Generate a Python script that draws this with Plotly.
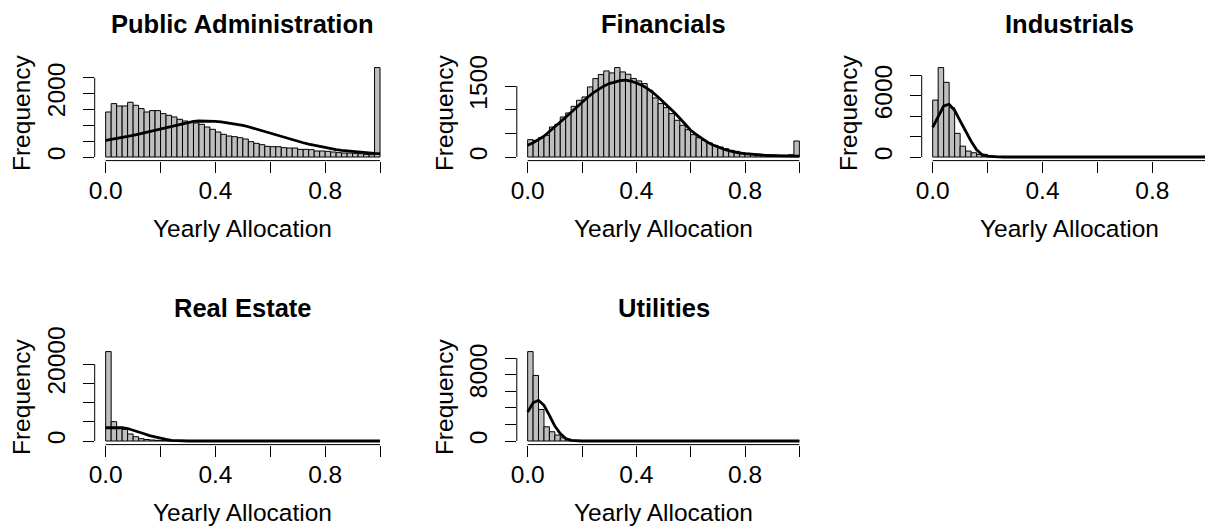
import plotly.graph_objects as go

# ---------------- data ----------------
BIN_WIDTH = 0.02
breaks = [round(i * BIN_WIDTH, 2) for i in range(51)]
mids = [round(b + BIN_WIDTH / 2, 3) for b in breaks[:-1]]

titles = ["Public Administration", "Financials", "Industrials", "Real Estate", "Utilities"]

pa_counts = [1421, 1685, 1611, 1611, 1727, 1632, 1527, 1421, 1464, 1464,
             1369, 1316, 1264, 1190, 1137, 1106, 1074, 1032, 948, 874,
             790, 716, 663, 642, 611, 569, 484, 432, 390, 337,
             326, 326, 295, 284, 284, 242, 242, 232, 190, 190,
             179, 158, 137, 126, 126, 116, 105, 84, 74, 2822]
pa_curve = [526, 555, 585, 615, 650, 684, 725, 765, 810, 850,
            895, 935, 969, 1020, 1065, 1106, 1125, 1137, 1140, 1135,
            1127, 1110, 1085, 1060, 1030, 1000, 955, 905, 850, 795,
            737, 685, 635, 585, 540, 495, 450, 410, 370, 330,
            295, 265, 235, 210, 190, 179, 160, 145, 130, 115, 105]

fin_counts = [367, 353, 409, 459, 635, 692, 847, 932, 1073, 1200,
              1271, 1483, 1659, 1744, 1821, 1779, 1892, 1800, 1751, 1659,
              1610, 1553, 1412, 1250, 1130, 1045, 918, 777, 671, 579,
              473, 409, 353, 297, 247, 212, 177, 141, 120, 92,
              78, 71, 56, 49, 49, 42, 35, 35, 49, 339]
fin_curve = [250, 300, 370, 440, 540, 650, 740, 840, 950, 1060,
             1165, 1260, 1350, 1430, 1500, 1553, 1590, 1618, 1625, 1605,
             1567, 1520, 1450, 1370, 1270, 1165, 1050, 940, 820, 690,
             565, 480, 395, 320, 260, 212, 170, 135, 105, 85,
             71, 58, 46, 38, 32, 28, 25, 22, 20, 20, 20]

ind_counts = [5571, 8750, 7309, 4830, 2318, 1063, 580, 419, 258, 258,
              60, 30, 15, 0, 0, 0, 0, 0, 0, 0,
              0, 0, 0, 0, 0, 0, 0, 0, 0, 0,
              0, 0, 0, 0, 0, 0, 0, 0, 0, 0,
              0, 0, 0, 0, 0, 0, 0, 0, 0, 0]
ind_curve = [2900, 4025, 4990, 5150, 4570, 3540, 2510, 1550, 710, 225,
             97, 30, 10, 0, 0, 0, 0, 0, 0, 0,
             0, 0, 0, 0, 0, 0, 0, 0, 0, 0,
             0, 0, 0, 0, 0, 0, 0, 0, 0, 0,
             0, 0, 0, 0, 0, 0, 0, 0, 0, 0, 0]

re_counts = [23262, 5034, 3559, 3038, 1823, 1128, 608, 400, 260, 174,
             100, 60, 30, 15, 0, 0, 0, 0, 0, 0,
             0, 0, 0, 0, 0, 0, 0, 0, 0, 0,
             0, 0, 0, 0, 0, 0, 0, 0, 0, 0,
             0, 0, 0, 0, 0, 0, 0, 0, 0, 0]
re_curve = [3450, 3500, 3500, 3450, 3250, 2850, 2400, 1900, 1400, 1000,
            700, 400, 180, 60, 20, 0, 0, 0, 0, 0,
            0, 0, 0, 0, 0, 0, 0, 0, 0, 0,
            0, 0, 0, 0, 0, 0, 0, 0, 0, 0,
            0, 0, 0, 0, 0, 0, 0, 0, 0, 0, 0]

ut_counts = [10773, 7900, 3800, 1716, 1117, 718, 399, 200, 80, 30,
             10, 0, 0, 0, 0, 0, 0, 0, 0, 0,
             0, 0, 0, 0, 0, 0, 0, 0, 0, 0,
             0, 0, 0, 0, 0, 0, 0, 0, 0, 0,
             0, 0, 0, 0, 0, 0, 0, 0, 0, 0]
ut_curve = [3500, 4600, 4900, 4300, 3100, 1800, 900, 300, 80, 20,
            0, 0, 0, 0, 0, 0, 0, 0, 0, 0,
            0, 0, 0, 0, 0, 0, 0, 0, 0, 0,
            0, 0, 0, 0, 0, 0, 0, 0, 0, 0,
            0, 0, 0, 0, 0, 0, 0, 0, 0, 0, 0]

counts = [pa_counts, fin_counts, ind_counts, re_counts, ut_counts]
curves = [pa_curve, fin_curve, ind_curve, re_curve, ut_curve]

x_tickvals = [0.0, 0.2, 0.4, 0.6, 0.8, 1.0]
x_ticktext = ["0.0", "", "0.4", "", "0.8", ""]

y_tickvals = [
    [0, 500, 1000, 1500, 2000, 2500],
    [0, 500, 1000, 1500],
    [0, 2000, 4000, 6000, 8000],
    [0, 5000, 10000, 15000, 20000],
    [0, 2000, 4000, 6000, 8000, 10000],
]
y_ticktext = [
    ["0", "", "", "", "2000", ""],
    ["0", "", "", "1500"],
    ["0", "", "", "6000", ""],
    ["0", "", "", "", "20000"],
    ["0", "", "", "", "8000", ""],
]

# ---------------- layout geometry (pixels) ----------------
W, H = 1205, 526
# plot regions: (left, right, top, bottom) in px
regions = [
    (94.7, 391.0, 64.0, 160.6),
    (516.8, 810.2, 64.0, 160.6),
    (921.7, 1218.2, 64.0, 160.6),
    (94.7, 391.0, 348.0, 444.6),
    (516.8, 810.2, 348.0, 444.6),
]

FONT = "Liberation Sans, Arial, sans-serif"
GRAY = "#BEBEBE"
TICK_SIZE = 24.5
TITLE_SIZE = 25.5

fig = go.Figure()
layout = dict(
    width=W, height=H, margin=dict(l=0, r=0, t=0, b=0, pad=0, autoexpand=False),
    paper_bgcolor="white", plot_bgcolor="white", showlegend=False,
    font=dict(family=FONT, color="black"),
    bargap=0,
)
shapes = []
annotations = []

for i in range(5):
    left, right, top, bottom = regions[i]
    n = "" if i == 0 else str(i + 1)
    xa, ya = "x" + n, "y" + n
    ymax = max(counts[i])
    unit = (right - left) / 1.08
    x_lo = -0.04
    x_hi = 1.04
    dom_right = right
    if right > W:
        dom_right = W
        x_hi = -0.04 + (W - left) / unit
    fig.add_trace(go.Bar(
        x=mids, y=counts[i], width=BIN_WIDTH,
        marker=dict(color=GRAY, line=dict(color="black", width=1)),
        xaxis=xa, yaxis=ya, hoverinfo="skip",
    ))
    fig.add_trace(go.Scatter(
        x=breaks, y=curves[i], mode="lines",
        line=dict(color="black", width=2.8),
        xaxis=xa, yaxis=ya, hoverinfo="skip",
    ))
    layout["xaxis" + n] = dict(
        domain=[left / W, dom_right / W], range=[x_lo, x_hi], anchor=ya,
        tickvals=x_tickvals, ticktext=x_ticktext,
        ticks="outside", ticklen=11, tickwidth=1, tickcolor="black",
        showgrid=False, zeroline=False, showline=False,
        tickfont=dict(size=TICK_SIZE, color="black", family=FONT),
        ticklabelstandoff=-3, automargin=False, fixedrange=True,
    )
    layout["yaxis" + n] = dict(
        domain=[1 - bottom / H, 1 - top / H], range=[-0.04 * ymax, 1.04 * ymax], anchor=xa,
        tickvals=y_tickvals[i], ticktext=y_ticktext[i], tickangle=-90,
        ticks="outside", ticklen=11, tickwidth=1, tickcolor="black",
        showgrid=False, zeroline=False, showline=False,
        tickfont=dict(size=TICK_SIZE, color="black", family=FONT),
        ticklabelstandoff=8, automargin=False, fixedrange=True,
    )
    shapes.append(dict(type="line", xref=xa, yref=ya + " domain",
                       x0=x_tickvals[0], x1=x_tickvals[-1], y0=0, y1=0,
                       line=dict(color="black", width=1)))
    shapes.append(dict(type="line", xref=xa + " domain", yref=ya,
                       x0=0, x1=0, y0=y_tickvals[i][0], y1=y_tickvals[i][-1],
                       line=dict(color="black", width=1)))
    cx = (left + right) / 2 / W
    cy = 1 - (top + bottom) / 2 / H
    annotations.append(dict(text="<b>" + titles[i] + "</b>", xref="paper", yref="paper",
                            x=cx, y=1 - (top - 40.3) / H, xanchor="center", yanchor="middle",
                            showarrow=False, font=dict(size=TITLE_SIZE, family=FONT, color="black")))
    annotations.append(dict(text="Yearly Allocation", xref="paper", yref="paper",
                            x=cx, y=1 - (bottom + 67.5) / H, xanchor="center", yanchor="middle",
                            showarrow=False, font=dict(size=TICK_SIZE, family=FONT, color="black")))
    annotations.append(dict(text="Frequency", xref="paper", yref="paper",
                            x=(left - 73.0) / W, y=cy, xanchor="center", yanchor="middle",
                            textangle=-90, showarrow=False,
                            font=dict(size=TICK_SIZE, family=FONT, color="black")))

layout["shapes"] = shapes
layout["annotations"] = annotations
fig.update_layout(**layout)
fig.write_html(
    "out.html",
    config={"displayModeBar": False, "staticPlot": True},
    post_script="document.body.style.margin='0px';document.body.style.overflow='hidden';",
)
